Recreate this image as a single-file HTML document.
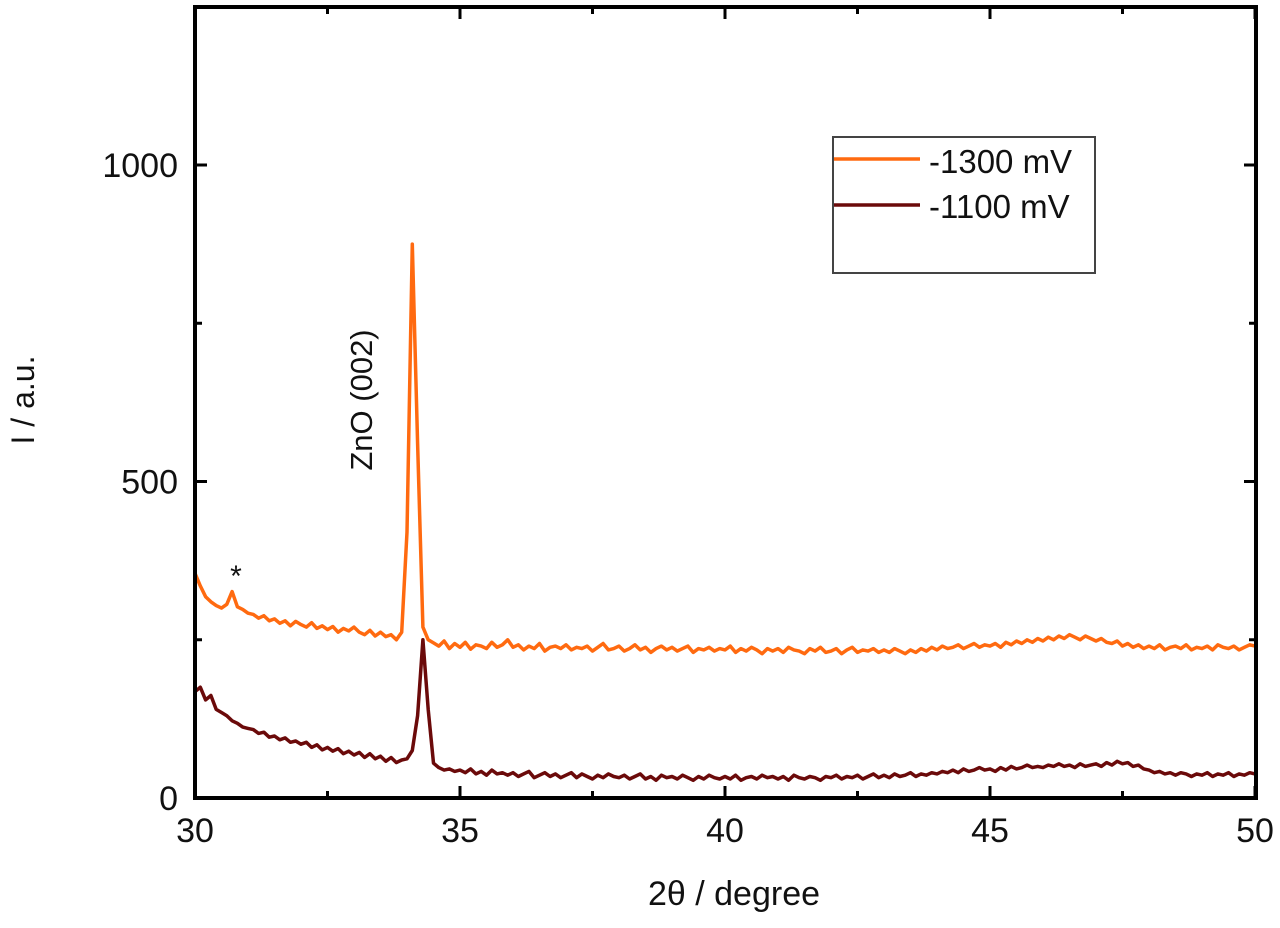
<!DOCTYPE html>
<html><head><meta charset="utf-8"><style>
body{margin:0;background:#fff;width:1280px;height:923px;overflow:hidden}
svg text{font-family:"Liberation Sans",sans-serif;fill:#111}
</style></head><body>
<svg id="chart" width="1280" height="923" viewBox="0 0 1280 923">
<g id="marks"></g>
<rect x="195" y="7" width="1061" height="791" fill="none" stroke="#000" stroke-width="4"/>
<g id="ticks"></g>
<text transform="translate(34,400) rotate(-90)" text-anchor="middle" font-size="32">I / a.u.</text>
<text x="734" y="905" text-anchor="middle" font-size="34">2θ / degree</text>
<text transform="translate(372,400) rotate(-90)" text-anchor="middle" font-size="31">ZnO (002)</text>
<text x="236" y="586" text-anchor="middle" font-size="30">*</text>
<g>
<rect x="833" y="137" width="262" height="136" fill="#fff" stroke="#444" stroke-width="2"/>
<line x1="834" y1="159" x2="920" y2="159" stroke="#ff6a10" stroke-width="3.5"/>
<text x="929" y="173" font-size="33">-1300 mV</text>
<line x1="834" y1="205" x2="920" y2="205" stroke="#6b0a0a" stroke-width="3.5"/>
<text x="929" y="218" font-size="33">-1100 mV</text>
</g>
</svg>
<script>
const xStart = 30, xStep = 0.1;
const xTicks = [30,35,40,45,50];
const yTicks = [0,500,1000];
const orange = [355,335,318,310,304,300,306,326,302,298,
292,290,284,288,280,283,276,280,272,279,
274,270,277,268,272,266,271,262,268,264,
270,262,258,265,256,262,255,258,250,262,
420,875,560,270,250,245,240,248,236,244,
238,246,235,242,240,236,246,238,242,250,
238,242,234,240,236,244,232,238,240,236,
242,234,238,236,240,232,238,244,234,236,
240,232,236,242,234,238,230,236,240,234,
238,232,236,240,230,236,234,238,232,236,
234,240,230,236,232,238,234,228,236,232,
236,230,238,234,232,228,236,232,238,230,
232,236,228,234,238,230,234,232,236,230,
234,230,236,232,228,234,230,236,232,238,
234,240,236,238,242,236,240,244,238,242,
240,244,238,246,242,248,244,250,246,252,
248,254,250,256,252,258,254,250,256,252,
248,252,246,244,248,240,244,238,242,236,
240,236,242,234,238,240,236,242,234,238,
236,240,234,242,238,236,240,234,238,242,240];
const dark = [168,175,155,162,140,135,130,122,118,112,
110,108,102,104,96,98,92,95,88,90,
85,88,80,84,76,80,74,78,70,74,
68,72,64,70,62,66,58,64,56,60,
62,75,130,250,140,55,48,44,46,42,
44,40,46,38,42,36,44,38,40,36,
40,34,38,42,32,36,40,34,38,32,
36,40,32,38,34,30,36,32,38,34,
32,36,30,34,38,30,34,28,36,32,
34,30,36,32,28,34,30,36,32,30,
34,30,36,28,32,34,30,36,32,34,
30,34,28,36,32,30,34,32,28,34,
32,36,30,34,32,36,30,34,38,32,
36,32,38,34,36,40,34,38,36,40,
38,42,40,44,40,46,42,44,48,44,
46,42,48,44,50,46,48,52,48,50,
48,52,50,54,50,52,48,54,50,52,
54,50,56,52,58,54,56,50,52,46,
44,40,42,38,40,36,40,38,34,38,
36,40,34,38,36,40,34,38,36,40,38];
const X = v => 195 + (v-30)*53;
const Y = v => 798 - v*0.633;
const NS='http://www.w3.org/2000/svg';
const marks=document.getElementById('marks');
function line(vals,color,name){
  const p=document.createElementNS(NS,'path');
  
  
  p.setAttribute('d', vals.map((v,i)=>(i?'L':'M')+X(xStart+i*xStep).toFixed(1)+','+Y(v).toFixed(1)).join(''));
  p.setAttribute('fill','none');p.setAttribute('stroke',color);p.setAttribute('stroke-width','3.5');p.setAttribute('stroke-linejoin','round');
  marks.appendChild(p);
}
line(orange,'#ff6a10','series-1300mv');
line(dark,'#6b0a0a','series-1100mv');
const tg=document.getElementById('ticks');
function add(tag,attrs,txt){const e=document.createElementNS(NS,tag);for(const k in attrs)e.setAttribute(k,attrs[k]);if(txt!==undefined)e.textContent=txt;tg.appendChild(e);return e;}
xTicks.forEach(t=>{
  const tl=add('text',{x:X(t),y:842,'text-anchor':'middle','font-size':'34'},t);
  
  
  add('line',{x1:X(t),y1:798,x2:X(t),y2:786,stroke:'#000','stroke-width':3});
  add('line',{x1:X(t),y1:7,x2:X(t),y2:19,stroke:'#000','stroke-width':3});
  if(t<50){const m=X(t+2.5);
    add('line',{x1:m,y1:798,x2:m,y2:791,stroke:'#000','stroke-width':3});
    add('line',{x1:m,y1:7,x2:m,y2:14,stroke:'#000','stroke-width':3});}
});
yTicks.forEach(t=>{
  const tl=add('text',{x:178,y:Y(t)+12,'text-anchor':'end','font-size':'34'},t);
  
  
  add('line',{x1:195,y1:Y(t),x2:207,y2:Y(t),stroke:'#000','stroke-width':3});
  add('line',{x1:1256,y1:Y(t),x2:1244,y2:Y(t),stroke:'#000','stroke-width':3});
  if(t<1000){const m=Y(t+250);
  add('line',{x1:195,y1:m,x2:202,y2:m,stroke:'#000','stroke-width':3});
  add('line',{x1:1256,y1:m,x2:1249,y2:m,stroke:'#000','stroke-width':3});}
});
</script>
</body></html>
